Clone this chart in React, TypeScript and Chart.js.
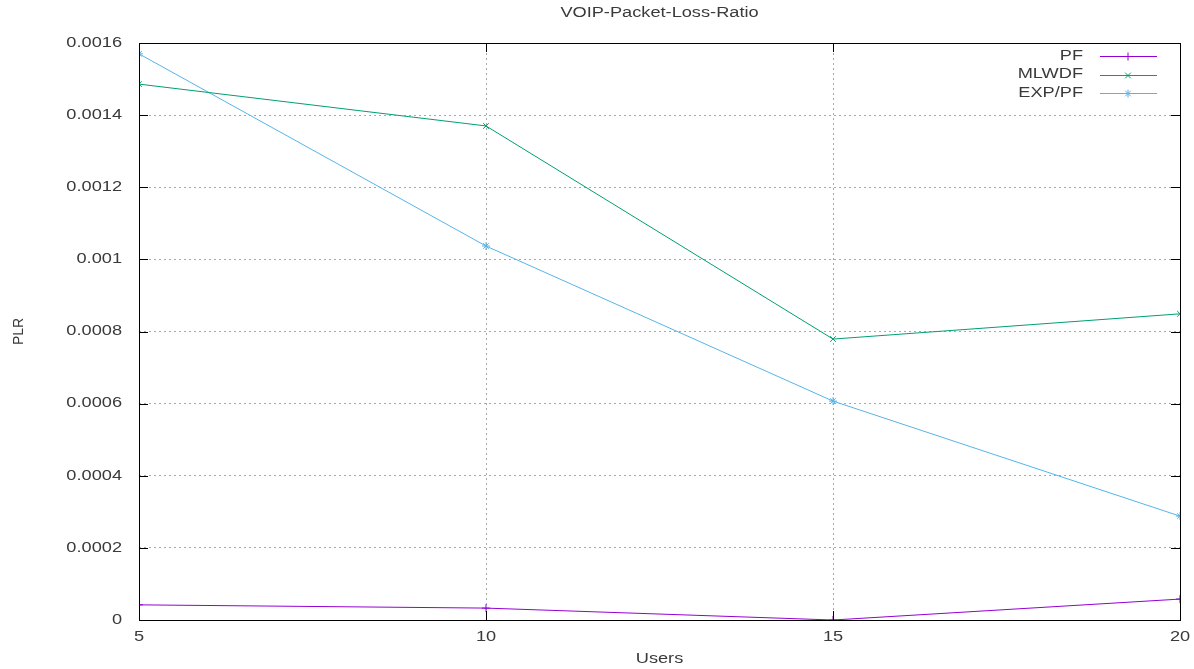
import React, { useEffect, useRef } from "react";
import { Chart, registerables } from "chart.js";
import { drawPoint } from "chart.js/helpers";

Chart.register(...registerables);

const users = [5, 10, 15, 20];
const pf = [0.000042, 0.000033, 0.0, 0.000058];
const mlwdf = [0.001486, 0.00137, 0.000779, 0.000849];
const exppf = [0.00157, 0.001037, 0.000607, 0.000288];
const seriesNames = ["PF", "MLWDF", "EXP/PF"];
const seriesColors = ["#9400d3", "#009e73", "#56b4e9"];
const seriesMarkers = ["cross", "crossRot", "star"];
const title = "VOIP-Packet-Loss-Ratio";
const xTitle = "Users";
const yTitle = "PLR";

const SX = 1.3;
const FONT = "14px 'Liberation Sans', Arial, sans-serif";
const TEXT = "#3a3a3a";

function sText(ctx: CanvasRenderingContext2D, t: string, x: number, y: number, align: CanvasTextAlign) {
  ctx.save();
  ctx.translate(x, y);
  ctx.scale(SX, 1);
  ctx.font = FONT;
  ctx.fillStyle = TEXT;
  ctx.textAlign = align;
  ctx.textBaseline = "middle";
  ctx.fillText(t, 0, 0);
  ctx.restore();
}

const fmt = (v: number) => String(parseFloat(v.toFixed(5)));

const gnuplotPlugin = {
  id: "gnuplotDecor",
  afterDraw(chart: any) {
    const ctx: CanvasRenderingContext2D = chart.ctx;
    const a = chart.chartArea;
    const xs = chart.scales.x;
    const ys = chart.scales.y;
    ctx.save();
    // border
    ctx.strokeStyle = "#000";
    ctx.lineWidth = 1;
    ctx.strokeRect(Math.round(a.left) + 0.5, Math.round(a.top) + 0.5, Math.round(a.right - a.left), Math.round(a.bottom - a.top));
    // tick marks inward
    ctx.beginPath();
    ys.ticks.forEach((t: any) => {
      const py = Math.round(ys.getPixelForValue(t.value)) + 0.5;
      ctx.moveTo(a.left, py);
      ctx.lineTo(a.left + 9, py);
      ctx.moveTo(a.right, py);
      ctx.lineTo(a.right - 9, py);
    });
    xs.ticks.forEach((t: any) => {
      const px = Math.round(xs.getPixelForValue(t.value)) + 0.5;
      ctx.moveTo(px, a.bottom);
      ctx.lineTo(px, a.bottom - 9);
      ctx.moveTo(px, a.top);
      ctx.lineTo(px, a.top + 9);
    });
    ctx.stroke();
    // tick labels
    ys.ticks.forEach((t: any) => {
      sText(ctx, fmt(t.value), a.left - 17, ys.getPixelForValue(t.value), "right");
    });
    xs.ticks.forEach((t: any) => {
      sText(ctx, fmt(t.value), xs.getPixelForValue(t.value), a.bottom + 17, "center");
    });
    // titles
    sText(ctx, title, (a.left + a.right) / 2, 13, "center");
    sText(ctx, xTitle, (a.left + a.right) / 2, 659, "center");
    ctx.save();
    ctx.translate(19, (a.top + a.bottom) / 2);
    ctx.rotate(-Math.PI / 2);
    ctx.font = FONT;
    ctx.fillStyle = TEXT;
    ctx.textAlign = "center";
    ctx.textBaseline = "middle";
    ctx.fillText(yTitle, 0, 0);
    ctx.restore();
    // legend
    chart.data.datasets.forEach((ds: any, i: number) => {
      const y = 56 + i * 18.5;
      sText(ctx, ds.label, 1083, y, "right");
      ctx.strokeStyle = ds.borderColor;
      ctx.lineWidth = 1;
      ctx.beginPath();
      ctx.moveTo(1100, Math.round(y) + 0.5);
      ctx.lineTo(1157, Math.round(y) + 0.5);
      ctx.stroke();
      ctx.fillStyle = ds.borderColor;
      drawPoint(ctx, { pointStyle: ds.pointStyle, radius: 4, borderWidth: 1 } as any, 1128, Math.round(y) + 0.5);
    });
    ctx.restore();
  },
};

export default function App() {
  const ref = useRef<HTMLCanvasElement>(null);
  useEffect(() => {
    document.body.style.margin = "0";
    const seriesData = [pf, mlwdf, exppf];
    const chart = new Chart(ref.current!, {
      type: "line",
      data: {
        datasets: seriesData.map((vals, i) => ({
          label: seriesNames[i],
          data: users.map((u, j) => ({ x: u, y: vals[j] })),
          borderColor: seriesColors[i],
          backgroundColor: seriesColors[i],
          borderWidth: 1,
          pointStyle: seriesMarkers[i] as any,
          pointRadius: 4,
          pointBorderWidth: 1,
          tension: 0,
          fill: false,
        })),
      },
      options: {
        animation: false,
        responsive: false,
        layout: { padding: { top: 43, right: 14, left: 0, bottom: 0 } },
        plugins: { legend: { display: false }, title: { display: false }, tooltip: { enabled: false } },
        scales: {
          x: {
            type: "linear",
            min: 5,
            max: 20,
            ticks: { stepSize: 5, display: false },
            border: { display: false, dash: [2, 3] },
            grid: { color: "#a8a8a8", lineWidth: 1, drawTicks: false },
            afterFit: (s: any) => { s.height = 49; },
          },
          y: {
            type: "linear",
            min: 0,
            max: 0.0016,
            ticks: { stepSize: 0.0002, display: false },
            border: { display: false, dash: [2, 3] },
            grid: { color: "#a8a8a8", lineWidth: 1, drawTicks: false },
            afterFit: (s: any) => { s.width = 139; },
          },
        },
      },
      plugins: [gnuplotPlugin],
    });
    return () => chart.destroy();
  }, []);
  return (
    <div style={{ position: "fixed", left: 0, top: 0, width: 1194, height: 669, background: "#fff" }}>
      <canvas ref={ref} width={1194} height={669} />
    </div>
  );
}
